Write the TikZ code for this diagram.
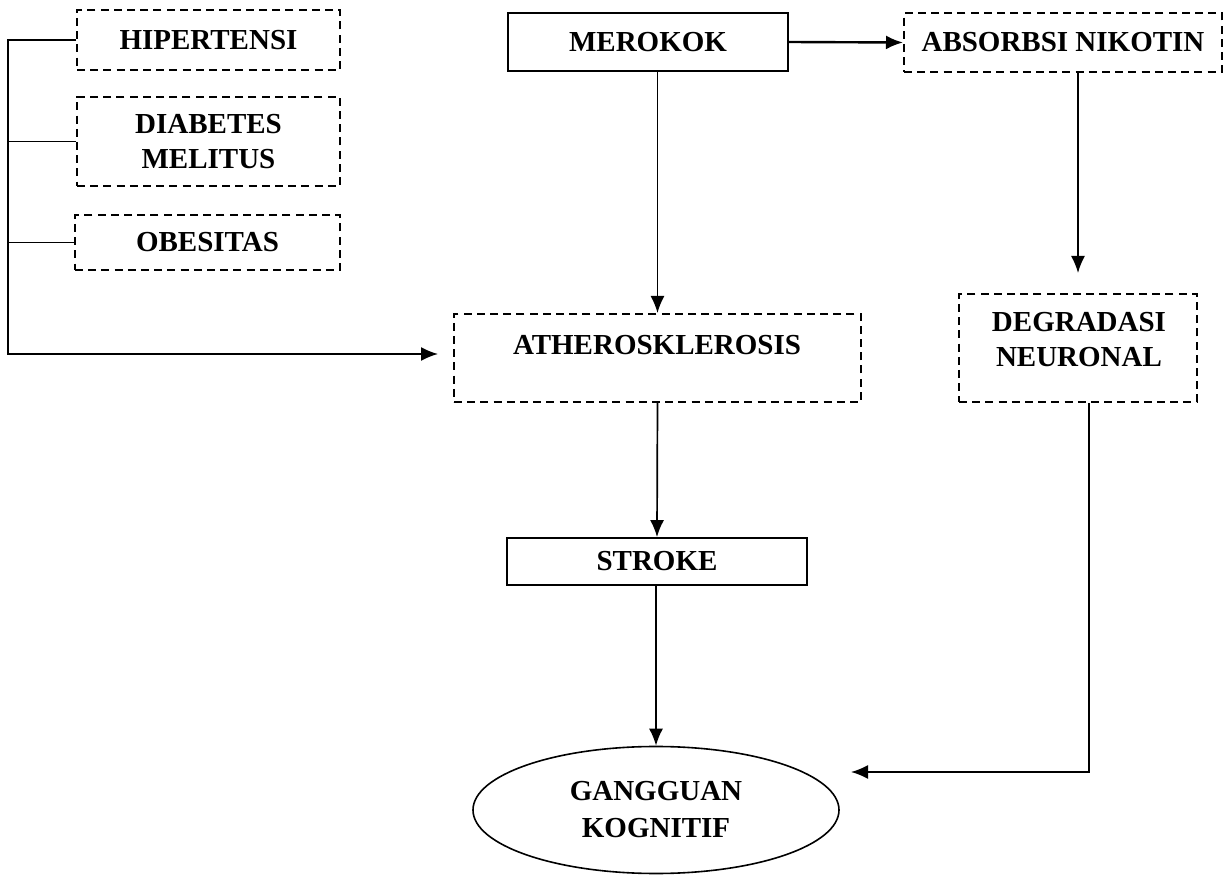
\documentclass[tikz,border=0pt]{standalone}
\usepackage{fontspec}
\setmainfont{Liberation Serif}
\usetikzlibrary{arrows.meta,shapes.geometric}
\begin{document}
\begin{tikzpicture}[x=0.5pt,y=-0.5pt,
  every node/.style={font=\fontsize{14.5}{17.5}\selectfont\bfseries, align=center, inner sep=0pt},
  dbox/.style={draw, line width=1pt, dash pattern=on 4pt off 2.6pt, rectangle},
  sbox/.style={draw, line width=0.9pt, rectangle},
  conn/.style={line width=0.85pt},
  arr/.style={conn, -{Latex[length=8.5pt,width=7pt]}}]
\useasboundingbox (0,0) rectangle (1223,877);
% boxes
\node[dbox, minimum width=131.5pt, minimum height=30pt] (hip) at (208.5,40) {HIPERTENSI};
\node[dbox, minimum width=131.5pt, minimum height=44.5pt] (dia) at (208.5,141.5) {DIABETES\\MELITUS};
\node[dbox, minimum width=132.5pt, minimum height=27.5pt] (obe) at (207.5,242.5) {OBESITAS};
\node[sbox, minimum width=140pt, minimum height=29pt] (mer) at (648,42) {MEROKOK};
\node[dbox, minimum width=159pt, minimum height=29.5pt] (abs) at (1063,42.5) {ABSORBSI NIKOTIN};
\node[dbox, minimum width=203.5pt, minimum height=44pt] (ath) at (657.5,358) {};
\node (athT) at (657,345) {ATHEROSKLEROSIS};
\node[dbox, minimum width=119pt, minimum height=54pt] (deg) at (1078,348) {};
\node (degT) at (1079,339.5) {DEGRADASI\\NEURONAL};
\node[sbox, minimum width=150pt, minimum height=23.5pt] (str) at (657,561.5) {STROKE};
\node[ellipse, draw, line width=0.8pt, minimum width=183pt, minimum height=63.5pt] (gan) at (656,810) {GANGGUAN\\[1pt]KOGNITIF};
% coordinates
\coordinate (lb) at (8,354);
\coordinate (gtip) at (851,772);
% connectors
\draw[arr, line width=1.2pt] (mer.east) -- (abs.west);
\draw[arr] (ath.north |- mer.south) -- (ath.north);
\draw[arr, shorten >=10pt] (deg.north |- abs.south) -- (deg.north);
\draw[arr] (ath.south) -- (str.north);
\draw[arr] (str.south -| gan.north) -- (gan.north);
\draw[arr] ([xshift=5.5pt]deg.south) |- (gtip);
\draw[arr, shorten >=7.5pt] (hip.west) -| (lb) -- (lb -| ath.west);
\draw[conn] (dia.west) -- (dia.west -| lb);
\draw[conn] (obe.west) -- (obe.west -| lb);
\end{tikzpicture}
\end{document}
